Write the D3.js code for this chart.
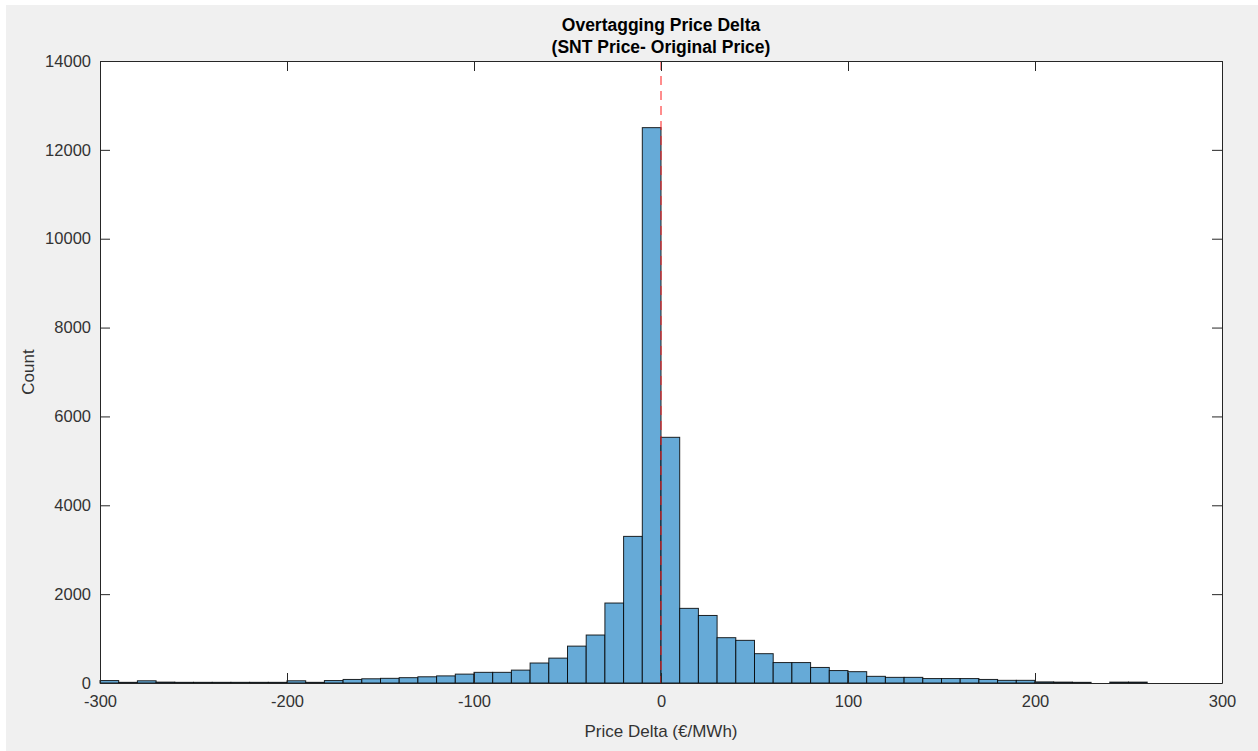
<!DOCTYPE html>
<html>
<head>
<meta charset="utf-8">
<script src="https://cdn.jsdelivr.net/npm/d3@7"></script>
<style>
  html, body { margin: 0; padding: 0; background: #ffffff; }
  svg { display: block; }
  text { font-family: "Liberation Sans", Arial, Helvetica, sans-serif; }
</style>
</head>
<body>
<svg id="chart" width="1258" height="751"></svg>
<script>
// ---- Data ----
const titleLines = ["Overtagging Price Delta", "(SNT Price- Original Price)"];
const xLabel = "Price Delta (€/MWh)";
const yLabel = "Count";
const binWidth = 10;
const binLeft = [-300,-290,-280,-270,-260,-250,-240,-230,-220,-210,
                 -200,-190,-180,-170,-160,-150,-140,-130,-120,-110,
                 -100,-90,-80,-70,-60,-50,-40,-30,-20,-10,
                 0,10,20,30,40,50,60,70,80,90,
                 100,110,120,130,140,150,160,170,180,190,
                 200,210,220,230,240,250];
const counts  = [55,15,50,20,15,15,15,15,15,15,
                 50,15,55,80,95,105,120,140,160,200,
                 240,240,290,450,560,830,1080,1800,3300,12500,
                 5530,1680,1520,1020,960,660,460,460,350,280,
                 255,150,127,127,100,100,100,80,60,60,
                 25,20,15,0,20,20];
const xTicks = [-300,-200,-100,0,100,200,300];
const yTicks = [0,2000,4000,6000,8000,10000,12000,14000];
const xDomain = [-300, 300];
const yDomain = [0, 14000];
const refLineX = 0;

// ---- Layout ----
const W = 1258, H = 751;
const plot = {left: 100, top: 61, right: 1222, bottom: 683};

const svg = d3.select("#chart");
svg.append("rect").attr("x", 6).attr("y", 5).attr("width", W - 6).attr("height", H - 5).attr("fill", "#f0f0f0");

const x = d3.scaleLinear().domain(xDomain).range([plot.left, plot.right]);
const y = d3.scaleLinear().domain(yDomain).range([plot.bottom, plot.top]);

// plot background
svg.append("rect")
  .attr("x", plot.left).attr("y", plot.top)
  .attr("width", plot.right - plot.left).attr("height", plot.bottom - plot.top)
  .attr("fill", "#ffffff");

// bars
const bins = binLeft.map((b, i) => ({x0: b, x1: b + binWidth, n: counts[i]})).filter(d => d.n > 0);
svg.append("g").selectAll("rect").data(bins).join("rect")
  .attr("x", d => x(d.x0))
  .attr("y", d => y(d.n))
  .attr("width", d => x(d.x1) - x(d.x0))
  .attr("height", d => y(0) - y(d.n))
  .attr("fill", "#66aad7")
  .attr("stroke", "#000000")
  .attr("stroke-opacity", 0.85)
  .attr("stroke-width", 1);

// reference dashed line
svg.append("line")
  .attr("x1", x(refLineX)).attr("x2", x(refLineX))
  .attr("y1", plot.top).attr("y2", plot.bottom)
  .attr("stroke", "#ff1a1a").attr("stroke-width", 1)
  .attr("stroke-dasharray", "9,6");

// axes
const axisColor = "#262626";
const tickLen = 10;
const fontSize = 16.5;
const fmt = d => String(d);

const xAxisB = d3.axisBottom(x).tickValues(xTicks).tickSizeInner(-tickLen).tickSizeOuter(0).tickPadding(12).tickFormat(fmt);
const xAxisT = d3.axisTop(x).tickValues(xTicks).tickSizeInner(-tickLen).tickSizeOuter(0).tickFormat("");
const yAxisL = d3.axisLeft(y).tickValues(yTicks).tickSizeInner(-tickLen).tickSizeOuter(0).tickPadding(9).tickFormat(fmt);
const yAxisR = d3.axisRight(y).tickValues(yTicks).tickSizeInner(-tickLen).tickSizeOuter(0).tickFormat("");

function style(g) {
  g.select(".domain").attr("stroke", axisColor).attr("stroke-width", 1);
  g.selectAll(".tick line").attr("stroke", axisColor).attr("stroke-width", 1);
  g.selectAll(".tick text").attr("fill", "#333333").attr("font-size", fontSize)
    .attr("font-family", "'Liberation Sans', Arial, Helvetica, sans-serif");
}
svg.append("g").attr("transform", `translate(0,${plot.bottom})`).call(xAxisB).call(style);
svg.append("g").attr("transform", `translate(0,${plot.top})`).call(xAxisT).call(style);
svg.append("g").attr("transform", `translate(${plot.left},0)`).call(yAxisL).call(style);
svg.append("g").attr("transform", `translate(${plot.right},0)`).call(yAxisR).call(style);

// titles
svg.append("text")
  .attr("x", (plot.left + plot.right) / 2).attr("y", 31)
  .attr("text-anchor", "middle").attr("font-weight", "bold").attr("font-size", 17.5)
  .attr("fill", "#000").text(titleLines[0]);
svg.append("text")
  .attr("x", (plot.left + plot.right) / 2).attr("y", 53)
  .attr("text-anchor", "middle").attr("font-weight", "bold").attr("font-size", 17.5)
  .attr("fill", "#000").text(titleLines[1]);

// axis labels
svg.append("text")
  .attr("x", (plot.left + plot.right) / 2).attr("y", 737)
  .attr("text-anchor", "middle").attr("font-size", 17).attr("fill", "#333333")
  .text(xLabel);
svg.append("text")
  .attr("transform", `translate(34,${(plot.top + plot.bottom) / 2}) rotate(-90)`)
  .attr("text-anchor", "middle").attr("font-size", 17).attr("fill", "#333333")
  .text(yLabel);
</script>
</body>
</html>
